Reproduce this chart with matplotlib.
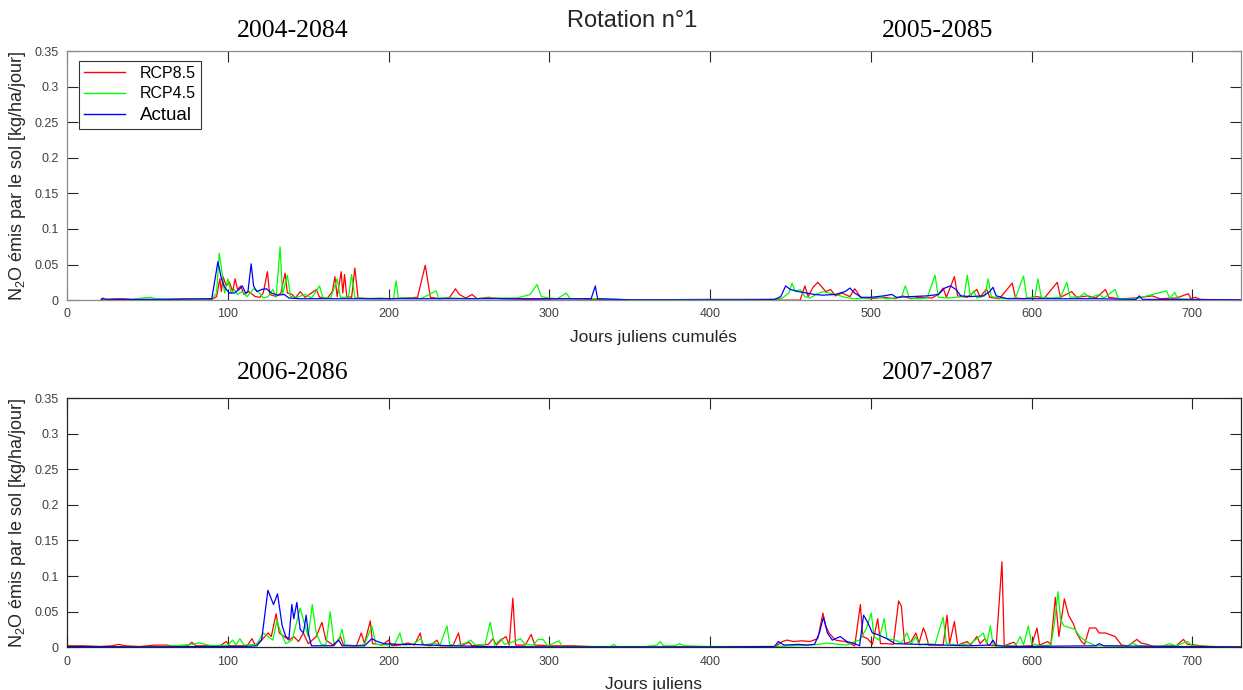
import numpy as np
import matplotlib
matplotlib.use('Agg')
import matplotlib.pyplot as plt
from matplotlib.ticker import FuncFormatter

plt.rcParams['font.family'] = ['Liberation Sans', 'DejaVu Sans']

# (jour, N2O kg/ha/jour)
top_rcp85 = [(21, 0.0), (22, 0.003), (24, 0.001), (30, 0.002), (35, 0.002), (40, 0.001), (60, 0.001),
             (75, 0.002), (90, 0.001), (93, 0.005), (95, 0.03), (96, 0.012), (97, 0.033), (99, 0.02),
             (101, 0.025), (103, 0.012), (104.5, 0.03), (106, 0.015), (108, 0.02), (110, 0.008),
             (113, 0.012), (117, 0.005), (120, 0.004), (122, 0.01), (124.6, 0.04), (126, 0.008),
             (130, 0.005), (133, 0.01), (135.6, 0.038), (137, 0.01), (140, 0.008), (142, 0.003),
             (145, 0.012), (148, 0.004), (152, 0.01), (155, 0.015), (157, 0.004), (162, 0.003),
             (165, 0.012), (166.6, 0.033), (168, 0.005), (170.5, 0.04), (171.5, 0.01), (172.6, 0.036),
             (174, 0.005), (177, 0.004), (179, 0.045), (181, 0.003), (190, 0.002), (200, 0.002),
             (210, 0.003), (218, 0.004), (222.8, 0.049), (226, 0.004), (232, 0.002), (238, 0.004),
             (241.6, 0.016), (244, 0.008), (248, 0.003), (252, 0.008), (255, 0.002), (262, 0.004),
             (270, 0.002), (290, 0.001), (310, 0.002), (330, 0.001), (360, 0.0005), (400, 0.001),
             (440, 0.001), (444, 0.0), (456, 0.0), (459, 0.02), (461, 0.005), (464, 0.018), (467, 0.025),
             (469, 0.02), (472, 0.012), (475, 0.015), (478, 0.006), (482, 0.01), (487, 0.005),
             (490, 0.016), (494, 0.003), (500, 0.002), (508, 0.004), (515, 0.002), (520, 0.006),
             (525, 0.002), (530, 0.004), (538, 0.003), (542, 0.008), (545, 0.017), (547, 0.004),
             (552, 0.033), (554, 0.006), (560, 0.004), (566, 0.015), (568, 0.004), (572, 0.016),
             (574, 0.004), (580, 0.002), (588, 0.024), (590, 0.003), (595, 0.002), (603, 0.005),
             (608, 0.003), (616, 0.025), (618, 0.004), (625, 0.012), (628, 0.004), (635, 0.006),
             (640, 0.003), (646, 0.015), (648, 0.004), (655, 0.002), (665, 0.003), (675, 0.006),
             (680, 0.002), (690, 0.003), (697.6, 0.009), (699, 0.002), (702, 0.004), (705, 0.001),
             (730, 0.0)]

top_rcp45 = [(21, 0.0), (22, 0.001), (40, 0.001), (47, 0.003), (52, 0.004), (55, 0.002), (70, 0.001),
             (90, 0.002), (93, 0.01), (94.6, 0.066), (96, 0.045), (98, 0.01), (100, 0.03), (102, 0.01),
             (104, 0.015), (106, 0.008), (109, 0.012), (112, 0.005), (116, 0.016), (119, 0.012),
             (122, 0.003), (125, 0.005), (128, 0.015), (130, 0.004), (132.5, 0.075), (134, 0.008),
             (137, 0.035), (139, 0.005), (143, 0.004), (148, 0.008), (152, 0.003), (157, 0.02),
             (159, 0.004), (164, 0.003), (168, 0.03), (170, 0.004), (175, 0.004), (177, 0.036),
             (179, 0.004), (185, 0.002), (195, 0.003), (203, 0.002), (204.7, 0.027), (206, 0.003),
             (215, 0.003), (220, 0.002), (229.6, 0.013), (231, 0.003), (240, 0.003), (250, 0.002),
             (265, 0.003), (280, 0.003), (288, 0.008), (292.3, 0.022), (295, 0.005), (300, 0.003),
             (305, 0.002), (310.5, 0.01), (313, 0.002), (330, 0.002), (350, 0.0005), (400, 0.001),
             (440, 0.001), (445, 0.003), (449, 0.01), (451, 0.024), (453, 0.012), (456, 0.015),
             (459, 0.005), (462, 0.003), (466, 0.008), (470, 0.012), (474, 0.01), (478, 0.008),
             (484, 0.004), (490, 0.002), (500, 0.003), (505, 0.004), (510, 0.002), (519, 0.004),
             (521.5, 0.02), (524, 0.003), (530, 0.002), (535, 0.003), (540, 0.035), (542, 0.004),
             (548, 0.003), (558, 0.005), (560, 0.035), (562, 0.005), (564, 0.013), (566, 0.003),
             (571, 0.006), (573, 0.03), (575, 0.005), (582, 0.002), (590, 0.003), (595, 0.034),
             (597, 0.003), (602, 0.004), (604, 0.03), (606, 0.004), (612, 0.003), (618, 0.004),
             (622, 0.025), (624, 0.004), (630, 0.005), (633, 0.01), (636, 0.003), (642, 0.008),
             (645, 0.003), (652, 0.015), (654, 0.002), (665, 0.002), (684, 0.013), (686, 0.002),
             (689, 0.011), (691, 0.002), (700, 0.001), (730, 0.0)]

top_actual = [(21, 0.0), (22, 0.002), (25, 0.001), (60, 0.001), (90, 0.002), (93.8, 0.054), (96, 0.03),
              (98, 0.018), (101, 0.01), (104, 0.01), (107, 0.015), (109, 0.02), (111, 0.01),
              (112.5, 0.012), (114.5, 0.051), (116, 0.02), (118, 0.012), (121, 0.015), (124, 0.016),
              (127, 0.01), (131, 0.007), (135, 0.008), (138, 0.003), (145, 0.002), (160, 0.002),
              (180, 0.002), (200, 0.002), (250, 0.002), (300, 0.002), (326, 0.002), (328.6, 0.02),
              (330, 0.002), (350, 0.0005), (420, 0.0005), (440, 0.001), (444, 0.005), (447, 0.02),
              (450, 0.015), (455, 0.012), (460, 0.01), (465, 0.008), (470, 0.007), (478, 0.008),
              (484, 0.012), (487, 0.017), (490, 0.01), (494, 0.004), (500, 0.004), (508, 0.006),
              (513, 0.008), (516, 0.004), (525, 0.005), (535, 0.006), (542, 0.008), (546, 0.017),
              (549.5, 0.02), (553, 0.015), (556, 0.006), (562, 0.005), (570, 0.006), (574, 0.012),
              (576, 0.018), (578, 0.006), (585, 0.002), (600, 0.002), (620, 0.002), (640, 0.002),
              (665, 0.001), (667, 0.006), (669, 0.001), (690, 0.001), (730, 0.0005)]

bot_rcp85 = [(0, 0.002), (10, 0.002), (20, 0.001), (28, 0.002), (32, 0.004), (36, 0.002), (45, 0.001),
             (55, 0.003), (62, 0.003), (68, 0.001), (75, 0.002), (77.6, 0.007), (80, 0.002), (95, 0.002),
             (99, 0.008), (101, 0.002), (112, 0.002), (115, 0.012), (117, 0.003), (121, 0.01),
             (125, 0.02), (127, 0.015), (130, 0.047), (132, 0.02), (135, 0.015), (138, 0.01),
             (141, 0.015), (144, 0.008), (147, 0.02), (150, 0.005), (155, 0.015), (158.5, 0.035),
             (161, 0.01), (166, 0.002), (170, 0.015), (172, 0.003), (180, 0.002), (183, 0.02),
             (185, 0.005), (188.6, 0.037), (190, 0.005), (196, 0.003), (200, 0.01), (202, 0.002),
             (207, 0.003), (212, 0.006), (216, 0.003), (219.7, 0.02), (221, 0.004), (226, 0.002),
             (230, 0.01), (232, 0.002), (240, 0.002), (243.5, 0.02), (245, 0.002), (250, 0.007),
             (252, 0.002), (262, 0.004), (265, 0.012), (267, 0.003), (270, 0.01), (273, 0.015),
             (275, 0.003), (277.3, 0.069), (279, 0.003), (285, 0.003), (288.7, 0.018), (291, 0.003),
             (300, 0.002), (315, 0.002), (330, 0.0005), (360, 0.0), (440, 0.0), (445, 0.008),
             (448, 0.01), (452, 0.008), (457, 0.009), (462, 0.008), (467, 0.012), (470.2, 0.048),
             (472, 0.03), (474, 0.02), (478, 0.01), (484, 0.008), (490, 0.002), (493.5, 0.06),
             (495, 0.015), (498, 0.012), (501, 0.004), (504.3, 0.04), (506, 0.005), (510, 0.005),
             (514, 0.004), (517.3, 0.065), (519, 0.058), (521, 0.005), (525, 0.008), (528, 0.02),
             (530, 0.006), (532.7, 0.027), (534, 0.02), (536, 0.003), (545, 0.003), (547.4, 0.045),
             (549, 0.005), (552, 0.036), (554, 0.003), (560, 0.008), (562, 0.003), (566, 0.015),
             (568, 0.005), (571, 0.012), (573, 0.003), (578, 0.002), (581.6, 0.12), (583, 0.002),
             (589, 0.007), (591, 0.001), (600, 0.002), (603.4, 0.027), (605, 0.003), (610, 0.008),
             (612, 0.004), (614.8, 0.07), (617, 0.015), (620.4, 0.068), (623, 0.045), (626, 0.033),
             (628, 0.02), (631, 0.008), (633, 0.004), (636, 0.027), (640, 0.027), (642, 0.02),
             (646, 0.02), (652, 0.015), (656, 0.003), (660, 0.002), (665.6, 0.011), (668, 0.006),
             (672, 0.004), (676, 0.001), (690, 0.002), (694.5, 0.011), (697, 0.004), (702, 0.003),
             (710, 0.001), (730, 0.0)]

bot_rcp45 = [(0, 0.001), (20, 0.001), (40, 0.0), (60, 0.001), (78, 0.004), (82, 0.006), (86, 0.004),
             (90, 0.002), (100, 0.003), (103, 0.01), (105, 0.003), (107.5, 0.012), (110, 0.003),
             (118, 0.004), (122, 0.02), (125, 0.015), (128, 0.01), (130.5, 0.038), (133, 0.02),
             (136, 0.005), (140, 0.01), (145, 0.055), (148, 0.03), (150, 0.015), (152.5, 0.06),
             (155, 0.02), (158, 0.004), (161, 0.003), (163.7, 0.05), (166, 0.005), (169, 0.01),
             (171, 0.025), (173, 0.003), (180, 0.002), (185, 0.004), (189.6, 0.03), (192, 0.004),
             (200, 0.003), (204, 0.005), (207, 0.02), (209, 0.003), (215, 0.004), (220, 0.012),
             (222, 0.003), (228, 0.006), (232, 0.003), (236.3, 0.03), (238, 0.004), (242, 0.002),
             (248, 0.006), (251, 0.01), (254, 0.003), (260, 0.004), (263.2, 0.035), (266, 0.003),
             (270, 0.012), (272, 0.004), (278, 0.008), (282, 0.012), (285, 0.004), (290, 0.003),
             (293, 0.011), (296, 0.011), (299, 0.002), (306, 0.009), (308, 0.001), (320, 0.001),
             (338, 0.001), (340, 0.004), (342, 0.001), (360, 0.001), (367, 0.003), (369, 0.008),
             (371, 0.002), (378, 0.002), (381, 0.005), (384, 0.002), (400, 0.001), (440, 0.001),
             (460, 0.003), (468, 0.004), (472, 0.006), (480, 0.004), (485, 0.003), (490, 0.008),
             (493, 0.01), (497, 0.025), (500.3, 0.048), (502, 0.015), (505, 0.01), (508.4, 0.04),
             (510, 0.012), (515, 0.01), (519, 0.006), (522.5, 0.02), (525, 0.004), (528, 0.015),
             (530, 0.003), (535, 0.005), (540, 0.004), (542, 0.02), (545, 0.042), (547, 0.005),
             (555, 0.003), (562, 0.005), (566, 0.012), (570, 0.02), (572, 0.005), (574.4, 0.03),
             (576, 0.004), (582, 0.002), (590, 0.002), (593, 0.015), (595, 0.003), (598, 0.03),
             (600, 0.005), (606, 0.002), (612, 0.003), (614, 0.03), (616.5, 0.078), (618, 0.04),
             (620, 0.03), (623, 0.028), (627, 0.025), (630, 0.015), (634, 0.008), (640, 0.002),
             (660, 0.002), (663, 0.006), (666, 0.002), (680, 0.001), (686, 0.005), (690, 0.002),
             (697, 0.008), (700, 0.002), (730, 0.0)]

bot_actual = [(0, 0.001), (50, 0.0005), (90, 0.001), (110, 0.001), (118, 0.002), (121, 0.01),
              (124.9, 0.08), (128.4, 0.06), (130.9, 0.075), (133.8, 0.03), (136, 0.015), (138, 0.012),
              (139.8, 0.06), (141, 0.04), (142.9, 0.063), (145, 0.025), (147, 0.02), (148.7, 0.045),
              (150, 0.02), (152, 0.002), (165, 0.002), (169, 0.01), (171, 0.002), (185, 0.002),
              (189.6, 0.012), (193, 0.008), (197, 0.005), (205, 0.004), (215, 0.004), (225, 0.003),
              (240, 0.002), (260, 0.001), (300, 0.0005), (400, 0.0005), (440, 0.001), (442.5, 0.008),
              (446, 0.003), (455, 0.004), (460, 0.003), (465, 0.004), (468, 0.02), (470.5, 0.042),
              (473, 0.02), (476, 0.01), (481, 0.015), (485, 0.008), (490, 0.005), (493, 0.002),
              (495.5, 0.045), (498, 0.035), (501, 0.02), (504, 0.018), (507, 0.015), (510, 0.012),
              (515, 0.005), (530, 0.004), (545, 0.003), (560, 0.002), (574, 0.003), (576, 0.01),
              (578, 0.002), (590, 0.001), (640, 0.002), (642, 0.005), (645, 0.002), (690, 0.001),
              (730, 0.0005)]

series_labels = ['RCP8.5', 'RCP4.5', 'Actual']
series_colors = ['#ff0000', '#00ff00', '#0000ff']
x_ticks = [0, 100, 200, 300, 400, 500, 600, 700]
y_ticks = [0, 0.05, 0.1, 0.15, 0.2, 0.25, 0.3, 0.35]

fig = plt.figure(figsize=(12.43, 6.9), dpi=100)
ax1 = fig.add_axes([0.054, 0.565, 0.944, 0.361])
ax2 = fig.add_axes([0.054, 0.062, 0.944, 0.361])

ylab = 'N$_\\mathregular{2}$O émis par le sol [kg/ha/jour]'

for ax, group, xlab, frame in [(ax1, [top_rcp85, top_rcp45, top_actual], 'Jours juliens cumulés', '#8c8c8c'),
                               (ax2, [bot_rcp85, bot_rcp45, bot_actual], 'Jours juliens', '#262626')]:
    for pts, lab, col in zip(group, series_labels, series_colors):
        d = np.array(pts)
        ax.plot(d[:, 0], d[:, 1], color=col, lw=0.9, label=lab)
    ax.set_xlim(0, 730)
    ax.set_ylim(0, 0.35)
    ax.set_xticks(x_ticks)
    ax.set_yticks(y_ticks)
    ax.yaxis.set_major_formatter(FuncFormatter(lambda v, p: '%g' % v))
    ax.tick_params(direction='in', length=8, width=0.8, top=True, right=True,
                   labelsize=9, colors='#262626', labelcolor='#404040', pad=6)
    for s in ax.spines.values():
        s.set_color(frame)
        s.set_linewidth(0.9)
    ax.set_xlabel(xlab, fontsize=12.5, color='#262626', labelpad=7)
    ax.set_ylabel(ylab, fontsize=13, color='#262626', labelpad=5)

leg = ax1.legend(loc='upper left', bbox_to_anchor=(0.0102, 0.96), borderaxespad=0,
                 fontsize=11.5, frameon=True, fancybox=False, edgecolor='black',
                 handlelength=2.6, labelspacing=0.35, borderpad=0.3, handletextpad=0.9)
leg.get_frame().set_linewidth(0.8)
leg.get_texts()[2].set_fontsize(13.5)
for h in leg.get_lines():
    h.set_linewidth(1.0)

serif = ['Liberation Serif', 'DejaVu Serif']
fig.text(293 / 1243, 1 - 31 / 690, '2004-2084', ha='center', va='center', fontsize=18.5, family=serif)
fig.text(938 / 1243, 1 - 31 / 690, '2005-2085', ha='center', va='center', fontsize=18.5, family=serif)
fig.text(293 / 1243, 1 - 373 / 690, '2006-2086', ha='center', va='center', fontsize=18.5, family=serif)
fig.text(938 / 1243, 1 - 373 / 690, '2007-2087', ha='center', va='center', fontsize=18.5, family=serif)
fig.text(632 / 1243, 1 - 21 / 690, 'Rotation n°1', ha='center', va='center', fontsize=17, color='#262626')

fig.savefig('out.png', dpi=100)
